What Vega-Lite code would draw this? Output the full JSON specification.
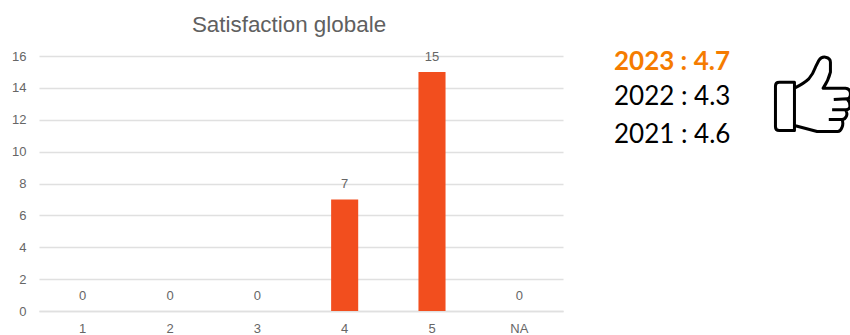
{"$schema":"https://vega.github.io/schema/vega-lite/v6.json","padding":{"left":11,"top":13,"right":0,"bottom":0},"background":"white","config":{"view":{"stroke":null},"font":"Liberation Sans"},"spacing":0,"hconcat":[{"width":524,"height":255,"title":{"text":"Satisfaction globale","font":"Liberation Sans","fontSize":22.4,"fontWeight":"normal","color":"#606060","dx":-12,"offset":14,"anchor":"middle"},"data":{"values":[{"note":"1","count":0},{"note":"2","count":0},{"note":"3","count":0},{"note":"4","count":7},{"note":"5","count":15},{"note":"NA","count":0}]},"encoding":{"x":{"field":"note","type":"nominal","sort":null,"scale":{"paddingInner":0.69,"paddingOuter":0.345},"axis":{"title":null,"labelAngle":0,"ticks":false,"domainColor":"#e0e0e0","domainWidth":1.5,"labelColor":"#666666","labelFontSize":13,"labelPadding":11,"grid":false}},"y":{"field":"count","type":"quantitative","scale":{"domain":[0,16]},"axis":{"title":null,"values":[0,2,4,6,8,10,12,14,16],"ticks":false,"domain":false,"labelColor":"#666666","labelFontSize":13,"labelPadding":13,"gridColor":"#e0e0e0","gridWidth":1.5}}},"layer":[{"mark":{"type":"bar","color":"#F24E1E"}},{"mark":{"type":"text","dy":-15,"fontSize":13,"color":"#666666","font":"Liberation Sans"},"encoding":{"text":{"field":"count","type":"quantitative"}}}]},{"width":288,"height":255,"data":{"values":[{"label":"2023 : 4.7","pos":0.177,"h":0.954,"kind":"latest"},{"label":"2022 : 4.3","pos":0.177,"h":0.678,"kind":"prior"},{"label":"2021 : 4.6","pos":0.177,"h":0.38,"kind":"prior"}]},"encoding":{"x":{"field":"pos","type":"quantitative","scale":{"domain":[0,1]},"axis":null},"y":{"field":"h","type":"quantitative","scale":{"domain":[-1,1]},"axis":null}},"layer":[{"transform":[{"filter":"datum.kind === 'latest'"}],"mark":{"type":"text","align":"left","baseline":"middle","font":"Lato","fontSize":26,"fontWeight":"bold","color":"#F57C00"},"encoding":{"text":{"field":"label"}}},{"transform":[{"filter":"datum.kind === 'prior'"}],"mark":{"type":"text","align":"left","baseline":"middle","font":"Lato","fontSize":26,"color":"#000000"},"encoding":{"text":{"field":"label"}}},{"data":{"values":[{"pos":0.865,"h":0.698}]},"mark":{"type":"point","filled":false,"stroke":"#000000","strokeWidth":3,"opacity":1,"size":5870,"strokeJoin":"round","shape":"M-0.461 -0.322L-0.857 -0.322Q-0.957 -0.322 -0.957 -0.222L-0.957 0.839Q-0.957 0.939 -0.857 0.939L-0.461 0.939ZM-0.461 -0.165Q-0.2 -0.3 -0.087 -0.409Q0.03 -0.55 0.087 -0.713L0.174 -0.887Q0.24 -0.99 0.348 -0.974Q0.478 -0.95 0.478 -0.843L0.478 -0.583Q0.42 -0.35 0.287 -0.165L0.87 -0.165Q1 -0.15 1 -0.017Q1 0.11 0.913 0.113L0.565 0.13M0.913 0.113Q1 0.2 0.983 0.33Q0.96 0.4 0.87 0.4L0.522 0.4M0.87 0.4Q0.93 0.48 0.896 0.565Q0.86 0.652 0.783 0.652L0.435 0.652M0.783 0.652Q0.82 0.76 0.783 0.852Q0.74 0.965 0.67 0.965L0.13 0.965L-0.461 0.809"}}]}]}
